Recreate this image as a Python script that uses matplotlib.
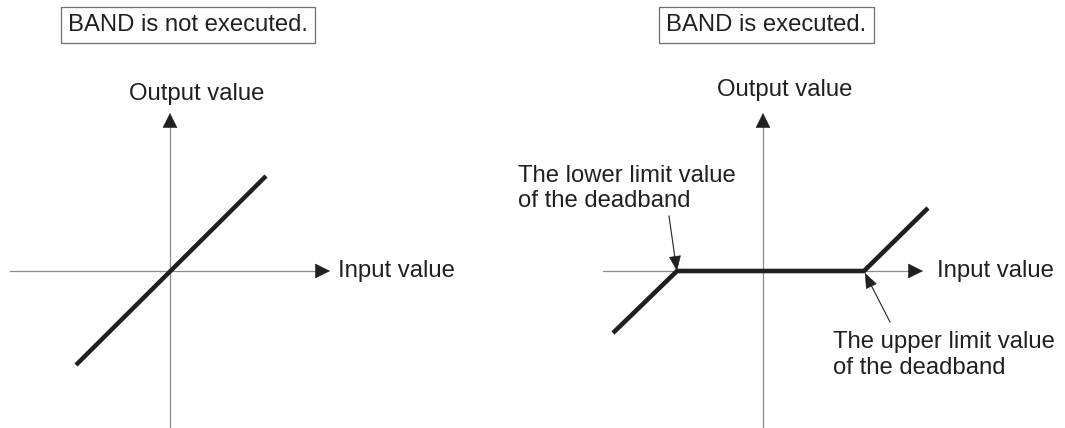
import matplotlib
matplotlib.use('Agg')
import matplotlib.pyplot as plt

# diagram data (units ~ pixels, origin at the axis crossing)
titles = ['BAND is not executed.', 'BAND is executed.']
out_label = 'Output value'
in_label = 'Input value'

# left: BAND not executed -> output follows input
x_plain = [-94, 96]
y_plain = [-94, 95]

# right: BAND executed -> deadband between lower and upper limit
lower_limit = -86
upper_limit = 101
x_band = [-150, lower_limit, upper_limit, 165]
y_band = [-62, 0, 0, 63]

lower_note = 'The lower limit value\nof the deadband'
upper_note = 'The upper limit value\nof the deadband'

ink = '#231f20'
axis_grey = '#8c8c8c'
box_grey = '#6e6e6e'
fs = 17.2
plt.rcParams['font.family'] = ['Liberation Sans', 'DejaVu Sans']

fig = plt.figure(figsize=(10.65, 4.28), dpi=100)
ax_l = fig.add_axes([0, 0, 0.5, 1])
ax_r = fig.add_axes([0.5, 0, 0.5, 1])
# origin of left diagram at x=170 px, right one at x=763 px, both at y=271 px
ax_l.set_xlim(-170, 362.5)
ax_r.set_xlim(-230.5, 302)
for ax in (ax_l, ax_r):
    ax.set_ylim(-157, 271)
    ax.axis('off')


def head(ax, tip, tail, width=0.5):
    ax.annotate('', xy=tip, xytext=tail,
                arrowprops=dict(arrowstyle=f'-|>,head_length=1.0,head_width={width}',
                                mutation_scale=10, color=ink, lw=0.4,
                                shrinkA=0, shrinkB=0))


def draw_axes(ax, x_start, x_tip, y_tip):
    ax.plot([x_start, x_tip - 10], [0, 0], color=axis_grey, lw=0.9)
    ax.plot([0, 0], [-157, y_tip - 10], color=axis_grey, lw=0.9)
    head(ax, (x_tip, 0), (x_tip - 14, 0))
    head(ax, (0, y_tip), (0, y_tip - 14))


draw_axes(ax_l, -160, 160, 158)
draw_axes(ax_r, -160, 160, 158)

ax_l.plot(x_plain, y_plain, color=ink, lw=3.2, solid_capstyle='butt')
ax_r.plot(x_band, y_band, color=ink, lw=3.3, solid_capstyle='butt',
          solid_joinstyle='miter')

# titles in boxes
for ax, t, x in ((ax_l, titles[0], 18), (ax_r, titles[1], 3.5)):
    ax.text(x, 246, t, ha='center', va='center', fontsize=fs, color=ink,
            bbox=dict(boxstyle='square,pad=0.3', fc='white', ec=box_grey, lw=0.9))

ax_l.text(26.5, 177, out_label, ha='center', va='center', fontsize=fs, color=ink)
ax_r.text(21.5, 181, out_label, ha='center', va='center', fontsize=fs, color=ink)
ax_l.text(168, 0, in_label, ha='left', va='center', fontsize=fs, color=ink)
ax_r.text(174, 0, in_label, ha='left', va='center', fontsize=fs, color=ink)

# deadband notes
ax_r.text(-245, 82.5, lower_note, ha='left', va='center', fontsize=fs,
          color=ink, linespacing=1.15)
ax_r.text(70, -84, upper_note, ha='left', va='center', fontsize=fs,
          color=ink, linespacing=1.25)
ax_r.plot([-94, -87.6], [55, 10], color=ink, lw=0.8)
head(ax_r, (lower_limit, 0), (-88, 14), width=0.4)
ax_r.plot([127, 107], [-51, -12], color=ink, lw=0.8)
head(ax_r, (upper_limit + 1, -2), (108, -14.5), width=0.4)

fig.savefig('out.png', dpi=100, facecolor='white')
